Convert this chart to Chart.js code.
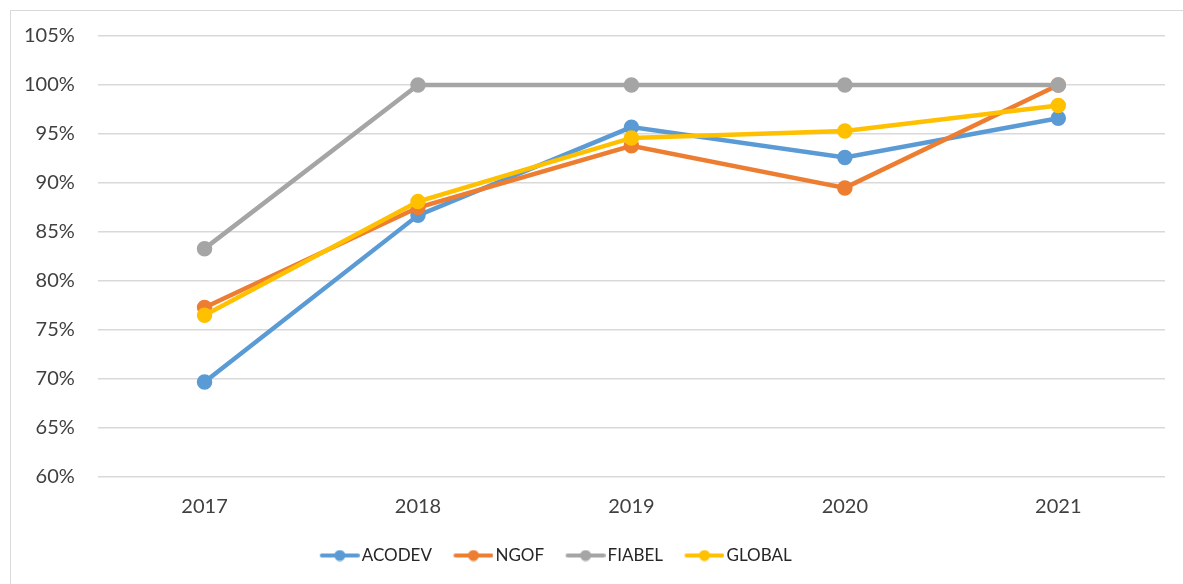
<!DOCTYPE html>
<html lang="en">
<head>
    <meta charset="UTF-8">
    <title>ACODEV / NGOF / FIABEL / GLOBAL</title>
    <script src="https://cdn.jsdelivr.net/npm/chart.js"></script>
    <style>
        html, body {
            margin: 0;
            padding: 0;
            background: #fff;
            overflow: hidden;
        }
        .frame {
            position: absolute;
            left: 10px;
            top: 10px;
            width: 1200px;
            height: 600px;
            border: 1px solid #d9d9d9;
        }
        #chart {
            position: absolute;
            left: 0;
            top: 0;
        }
    </style>
</head>
<body>
    <div class="frame"></div>
    <canvas id="chart" width="1183" height="584"></canvas>
    <script>
        const years = ['2017', '2018', '2019', '2020', '2021'];
        const acodev = [69.7, 86.7, 95.7, 92.6, 96.6];
        const ngof = [77.3, 87.5, 93.8, 89.5, 100];
        const fiabel = [83.3, 100, 100, 100, 100];
        const global = [76.5, 88.1, 94.6, 95.3, 97.9];
        const yMin = 60, yMax = 105, yStep = 5;

        const colors = ['#5B9BD5', '#ED7D31', '#A5A5A5', '#FFC000'];

        // line+dot sample for the legend (Excel style); drawn in the right part
        // of a wider image so it sits close to its text
        function legendMark(color) {
            const c = document.createElement('canvas');
            c.width = 58;
            c.height = 12;
            const g = c.getContext('2d');
            g.strokeStyle = color;
            g.lineWidth = 4;
            g.lineCap = 'round';
            g.beginPath();
            g.moveTo(20, 6);
            g.lineTo(56, 6);
            g.stroke();
            g.fillStyle = color;
            g.beginPath();
            g.arc(38, 6, 5.5, 0, Math.PI * 2);
            g.fill();
            return c;
        }

        function series(label, data, i) {
            return {
                label: label,
                data: data,
                borderColor: colors[i],
                backgroundColor: colors[i],
                pointBackgroundColor: colors[i],
                pointBorderColor: colors[i],
                borderWidth: 4.5,
                pointRadius: 5.5,
                pointHoverRadius: 5.5,
                tension: 0,
                order: 4 - i
            };
        }

        const shiftLegend = {
            id: 'shiftLegend',
            afterLayout(chart) {
                chart.legend.left -= 33;
                chart.legend.right -= 33;
            }
        };

        const ctx = document.getElementById('chart').getContext('2d');
        new Chart(ctx, {
            type: 'line',
            data: {
                labels: years,
                datasets: [
                    series('ACODEV', acodev, 0),
                    series('NGOF', ngof, 1),
                    series('FIABEL', fiabel, 2),
                    series('GLOBAL', global, 3)
                ]
            },
            plugins: [shiftLegend],
            options: {
                responsive: false,
                animation: false,
                layout: {
                    padding: { left: 1, right: 18, top: 36, bottom: 10 }
                },
                scales: {
                    x: {
                        offset: true,
                        grid: { display: false, drawTicks: false },
                        border: { display: false },
                        ticks: {
                            padding: 18,
                            color: '#404040',
                            font: { family: 'Lato', size: 20 }
                        }
                    },
                    y: {
                        min: yMin,
                        max: yMax,
                        grid: { color: '#d9d9d9', lineWidth: 1.5, drawTicks: false },
                        border: { display: false },
                        ticks: {
                            stepSize: yStep,
                            padding: 23,
                            color: '#404040',
                            font: { family: 'Lato', size: 20 },
                            callback: v => v + '%'
                        }
                    }
                },
                plugins: {
                    tooltip: { enabled: false },
                    legend: {
                        position: 'bottom',
                        labels: {
                            usePointStyle: true,
                            pointStyleWidth: 45,
                            padding: 10,
                            color: '#262626',
                            font: { family: 'Lato', size: 17 },
                            sort: (a, b) => a.datasetIndex - b.datasetIndex,
                            generateLabels(chart) {
                                const items = Chart.defaults.plugins.legend.labels.generateLabels(chart);
                                items.forEach(it => { it.pointStyle = legendMark(colors[it.datasetIndex]); });
                                return items;
                            }
                        }
                    }
                }
            }
        });
    </script>
</body>
</html>
